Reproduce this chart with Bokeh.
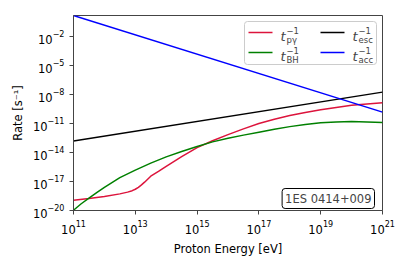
import numpy as np
from bokeh.plotting import figure
from bokeh.models import (Range1d, FixedTicker, Label, BoxAnnotation, PolyAnnotation)
from bokeh.embed import file_html
from bokeh.resources import INLINE

# log10 of proton energy [eV]
logE_py = [11, 11.5, 12, 12.5, 12.75, 12.9, 13.0, 13.1, 13.2, 13.3, 13.5, 13.75, 14, 14.5,
           15, 15.5, 16, 16.5, 17, 17.5, 18, 18.5, 19, 19.5, 20, 20.5, 21]
log_rate_py = [-18.94, -18.75, -18.55, -18.28, -18.1, -17.95, -17.8, -17.6, -17.35, -17.07,
               -16.45, -15.95, -15.43, -14.42, -13.5, -12.78, -12.15, -11.55, -11.0, -10.55,
               -10.17, -9.86, -9.58, -9.33, -9.12, -8.97, -8.85]

logE_bh = [11, 11.25, 11.5, 11.75, 12, 12.5, 13, 13.5, 14, 14.5, 15, 15.5, 16, 16.5, 17,
           17.5, 18, 18.5, 19, 19.5, 20, 20.5, 21]
log_rate_bh = [-19.97, -19.3, -18.72, -18.15, -17.6, -16.6, -15.82, -15.1, -14.45, -13.9,
               -13.38, -12.9, -12.52, -12.2, -11.9, -11.6, -11.32, -11.1, -10.93, -10.83,
               -10.8, -10.83, -10.89]

logE_esc = [11, 21]
log_rate_esc = [-12.8, -7.75]

logE_acc = [11, 21]
log_rate_acc = [0.18, -9.82]

x_ticks = [1e11, 1e13, 1e15, 1e17, 1e19, 1e21]
y_ticks = [1e-20, 1e-17, 1e-14, 1e-11, 1e-8, 1e-5, 1e-2]

W, H = 405, 260
p = figure(width=W, height=H, x_axis_type="log", y_axis_type="log",
           output_backend="svg", toolbar_location=None,
           x_range=Range1d(1e11, 1e21), y_range=Range1d(1e-20, 10**0.18),
           min_border_left=73, min_border_right=23, min_border_top=15, min_border_bottom=50)
p.grid.visible = False
p.outline_line_color = "#444444"
p.outline_line_width = 1

for ax in (p.xaxis[0], p.yaxis[0]):
    ax.major_tick_in = 0
    ax.major_tick_out = 4
    ax.minor_tick_in = 0
    ax.minor_tick_out = 0
    ax.axis_line_color = "#444444"
    ax.major_tick_line_color = "#444444"
    ax.major_label_text_font = "DejaVu Sans"
    ax.major_label_text_font_size = "11.5px"
    ax.major_label_text_color = "black"
    ax.axis_label_text_font = "DejaVu Sans"
    ax.axis_label_text_font_size = "11.5px"
    ax.axis_label_text_font_style = "normal"
    ax.axis_label_text_color = "black"

p.xaxis.ticker = FixedTicker(ticks=x_ticks, minor_ticks=[])
p.yaxis.ticker = FixedTicker(ticks=y_ticks, minor_ticks=[])
p.xaxis.axis_label = "Proton Energy [eV]"
p.yaxis.axis_label = "Rate [s⁻¹]"

def pw(a):
    return [10.0 ** v for v in a]

p.line(pw(logE_py), pw(log_rate_py), line_color="crimson", line_width=1.5)
p.line(pw(logE_bh), pw(log_rate_bh), line_color="green", line_width=1.5)
p.line(pw(logE_esc), pw(log_rate_esc), line_color="black", line_width=1.5)
p.line(pw(logE_acc), pw(log_rate_acc), line_color="blue", line_width=1.5)

# annotation positions: screen units relative to the frame (origin bottom-left)
FL, FB = 73, 210
def sx(px):
    return px - FL
def sy(py):
    return FB - py

box = BoxAnnotation(left=sx(244), right=sx(376), top=sy(21), bottom=sy(64),
                    left_units="screen", right_units="screen",
                    top_units="screen", bottom_units="screen",
                    fill_color="white", fill_alpha=0.8, line_color="#cccccc",
                    line_alpha=1.0, line_width=1, border_radius=3)
p.add_layout(box)

entries = [("crimson", "pγ", 248, 32), ("green", "BH", 248, 52),
           ("black", "esc", 320, 32), ("blue", "acc", 320, 52)]
for color, sub, x0, yt in entries:
    yy = sy(yt)
    p.add_layout(PolyAnnotation(xs=[sx(x0), sx(x0 + 24), sx(x0 + 24), sx(x0)], ys=[yy, yy, yy, yy],
                                xs_units="screen", ys_units="screen",
                                fill_alpha=0, line_color=color, line_alpha=1.0, line_width=1.5))
    tx = sx(x0 + 32)
    p.add_layout(Label(x=tx, y=yy - 4, x_units="screen", y_units="screen", text="t",
                       text_font="DejaVu Sans", text_font_style="italic",
                       text_font_size="13px", text_baseline="alphabetic"))
    p.add_layout(Label(x=tx + 6, y=yy + 2, x_units="screen", y_units="screen", text="−1",
                       text_font="DejaVu Sans", text_font_size="8.5px", text_baseline="alphabetic"))
    p.add_layout(Label(x=tx + 6, y=yy - 7, x_units="screen", y_units="screen", text=sub,
                       text_font="DejaVu Sans", text_font_size="8.5px", text_baseline="alphabetic"))

p.add_layout(Label(x=sx(374), y=sy(198), x_units="screen", y_units="screen", text="1ES 0414+009",
                   text_font="DejaVu Sans", text_font_size="11.5px", text_align="right",
                   text_baseline="middle", border_line_color="black", border_line_width=1,
                   background_fill_color="white", border_radius=3, padding=3))

open("out.html", "w").write(file_html(p, INLINE))
